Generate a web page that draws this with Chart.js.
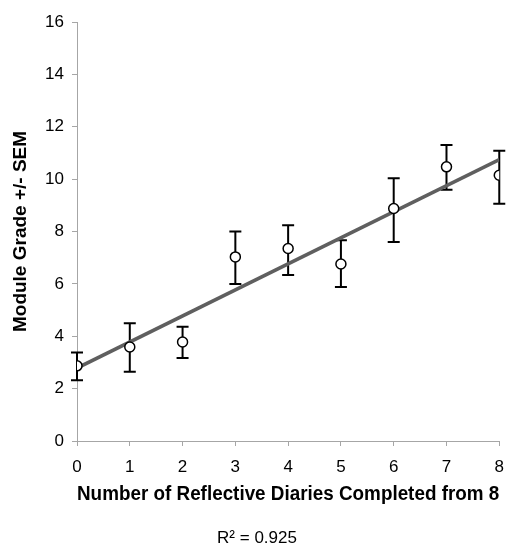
<!DOCTYPE html>
<html>
<head>
<meta charset="utf-8">
<script src="https://cdn.jsdelivr.net/npm/chart.js@4"></script>
<style>
  html, body { margin: 0; padding: 0; background: #fff; }
  #wrap { width: 515px; height: 548px; }
</style>
</head>
<body>
<div id="wrap"><canvas id="chart" width="515" height="548"></canvas></div>
<script>
// data
const diaries = [0, 1, 2, 3, 4, 5, 6, 7, 8];
const meanGrade = [2.87, 3.59, 3.78, 7.03, 7.35, 6.76, 8.88, 10.47, 10.15];
const semUpper = [3.38, 4.50, 4.36, 8.00, 8.24, 7.67, 10.03, 11.30, 11.08];
const semLower = [2.32, 2.64, 3.17, 6.00, 6.34, 5.88, 7.60, 9.59, 9.06];
const rSquaredText = 'R\u00B2 = 0.925';

// least squares trend line through the means
const n = diaries.length;
const mx = diaries.reduce((a, b) => a + b, 0) / n;
const my = meanGrade.reduce((a, b) => a + b, 0) / n;
let sxy = 0, sxx = 0;
for (let i = 0; i < n; i++) {
    sxy += (diaries[i] - mx) * (meanGrade[i] - my);
    sxx += (diaries[i] - mx) * (diaries[i] - mx);
}
const slope = sxy / sxx;
const intercept = my - slope * mx;
const trendX = [diaries[0], diaries[n - 1]];

const FONT = "'Liberation Sans', Arial, sans-serif";

// error bars + R² label
const errorBars = {
    id: 'errorBars',
    beforeDatasetsDraw(chart) {
        const ctx = chart.ctx;
        const xs = chart.scales.x, ys = chart.scales.y;
        ctx.save();
        ctx.strokeStyle = '#000';
        ctx.lineWidth = 2;
        for (let i = 0; i < diaries.length; i++) {
            const px = xs.getPixelForValue(diaries[i]);
            const top = ys.getPixelForValue(semUpper[i]);
            const bot = ys.getPixelForValue(semLower[i]);
            ctx.beginPath();
            ctx.moveTo(px, top); ctx.lineTo(px, bot);
            ctx.moveTo(px - 6, top); ctx.lineTo(px + 6, top);
            ctx.moveTo(px - 6, bot); ctx.lineTo(px + 6, bot);
            ctx.stroke();
        }
        ctx.restore();
    },
    afterDraw(chart) {
        const ctx = chart.ctx;
        ctx.save();
        ctx.fillStyle = '#000';
        ctx.font = '17px ' + FONT;
        ctx.textAlign = 'center';
        ctx.textBaseline = 'middle';
        ctx.fillText(rSquaredText, 257, 538);
        ctx.restore();
    }
};

const ctx = document.getElementById('chart').getContext('2d');
const chart = new Chart(ctx, {
    type: 'scatter',
    data: {
        datasets: [{
            label: 'Trend',
            type: 'line',
            data: trendX.map(x => ({ x: x, y: intercept + slope * x })),
            borderColor: '#5f5f5f',
            borderWidth: 3.5,
            pointRadius: 0,
            fill: false,
            order: 2
        }, {
            label: 'Module grade',
            data: diaries.map((x, i) => ({ x: x, y: meanGrade[i] })),
            pointRadius: 5,
            pointBackgroundColor: '#fff',
            pointBorderColor: '#000',
            pointBorderWidth: 1.5,
            order: 1
        }]
    },
    options: {
        responsive: false,
        animation: false,
        layout: { padding: { top: 22, right: 7, bottom: 41, left: 0 } },
        plugins: {
            legend: { display: false },
            tooltip: { enabled: false }
        },
        scales: {
            x: {
                type: 'linear',
                min: 0,
                max: 8,
                afterFit: s => { s.height = 66; },
                border: { color: '#a6a6a6', width: 1 },
                grid: { drawOnChartArea: false, tickLength: 5, color: '#a6a6a6' },
                ticks: { stepSize: 1, color: '#000', padding: 11, font: { family: FONT, size: 17 } },
                title: {
                    display: true,
                    text: 'Number of Reflective Diaries Completed from 8',
                    color: '#000',
                    font: { family: FONT, size: 20, weight: 'bold' },
                    padding: { top: 2, bottom: 1 }
                }
            },
            y: {
                min: 0,
                max: 16,
                afterFit: s => { s.width = 77; },
                border: { color: '#a6a6a6', width: 1 },
                grid: { drawOnChartArea: false, tickLength: 5, color: '#a6a6a6' },
                ticks: { stepSize: 2, color: '#000', padding: 8, font: { family: FONT, size: 17 } },
                title: {
                    display: true,
                    text: 'Module Grade +/- SEM',
                    color: '#000',
                    font: { family: FONT, size: 19, weight: 'bold' },
                    padding: { top: 9, bottom: 4 }
                }
            }
        }
    },
    plugins: [errorBars]
});
</script>
</body>
</html>
